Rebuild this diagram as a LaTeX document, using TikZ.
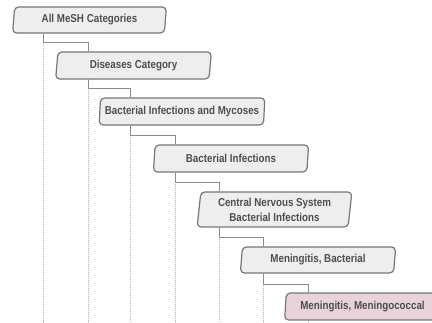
\documentclass[tikz,border=0pt]{standalone}
\usepackage{fontspec}
\newfontfamily\boxfont{Liberation Sans}[FakeStretch=0.85]
\usetikzlibrary{shapes.geometric}
\definecolor{bord}{HTML}{777777}
\definecolor{boxfill}{HTML}{EEEEEE}
\definecolor{pinkfill}{HTML}{E8D3DA}
\definecolor{txt}{HTML}{4E4E4E}
\definecolor{conn}{HTML}{8A8A8A}
\definecolor{dots}{HTML}{B5B5B5}
\tikzset{
  catbox/.style={trapezium, trapezium left angle=83, trapezium right angle=97,
    trapezium stretches=true, draw=bord, line width=1.2pt, fill=boxfill,
    rounded corners=4pt, inner sep=0pt, align=center, text=txt,
    font=\boxfont\bfseries\fontsize{11.5}{15}\selectfont},
  link/.style={draw=conn, line width=0.9pt},
  guide/.style={draw=dots, line width=0.8pt, dash pattern=on 1pt off 1pt}
}
\begin{document}
\begin{tikzpicture}[x=1pt,y=-1pt]
\useasboundingbox (0,0) rectangle (432,323);
\clip (0,0) rectangle (432,323);
% dotted guides
\draw[guide] (43,42) -- (43,323);
\draw[guide] (88,88) -- (88,323);
\draw[guide] (130,135) -- (130,323);
\draw[guide] (175,182) -- (175,323);
\draw[guide] (219,237) -- (219,323);
\draw[guide] (263,284) -- (263,323);
\draw[guide] (308,320) -- (308,323);
% boxes
\node[catbox, minimum width=155pt, minimum height=26pt] (b1) at (89.5,20) {All MeSH Categories};
\node[catbox, minimum width=157pt, minimum height=27pt] (b2) at (133.5,65.5) {Diseases Category};
\node[catbox, minimum width=166pt, minimum height=27pt] (b3) at (182,111.5) {Bacterial Infections and Mycoses};
\node[catbox, minimum width=156pt, minimum height=27pt] (b4) at (231,158.5) {Bacterial Infections};
\node[catbox, minimum width=155pt, minimum height=35pt] (b5) at (274.5,209.5) {Central Nervous System\\Bacterial Infections};
\node[catbox, minimum width=156pt, minimum height=26pt] (b6) at (318,260) {Meningitis, Bacterial};
\node[catbox, minimum width=156pt, minimum height=27pt, fill=pinkfill] (b7) at (362.5,306.5) {Meningitis, Meningococcal};
% connectors
\draw[link] (b1.south -| 43,0) -- (43,42) -| (b2.north -| 88,0);
\draw[link] (b2.south -| 88,0) -- (88,88) -| (b3.north -| 130,0);
\draw[link] (b3.south -| 130,0) -- (130,135) -| (b4.north -| 175,0);
\draw[link] (b4.south -| 175,0) -- (175,182) -| (b5.north -| 219,0);
\draw[link] (b5.south -| 219,0) -- (219,237) -| (b6.north -| 263,0);
\draw[link] (b6.south -| 263,0) -- (263,284) -| (b7.north -| 308,0);
\end{tikzpicture}
\end{document}
